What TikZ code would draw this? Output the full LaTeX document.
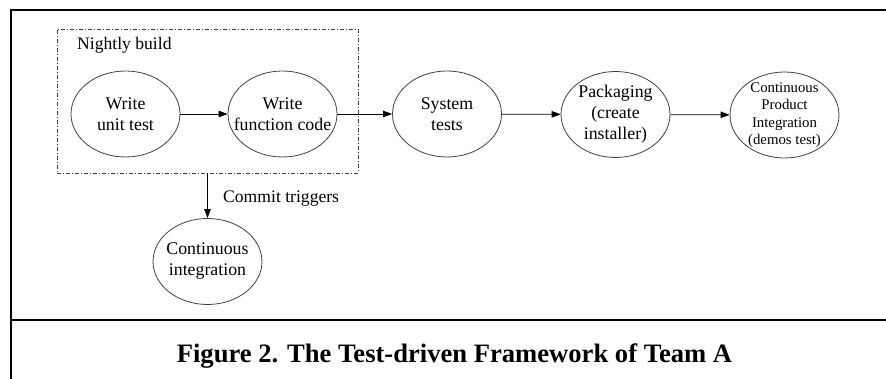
\documentclass[tikz,border=0pt]{standalone}
\usepackage{fontspec}
\setmainfont{Liberation Serif}
\usetikzlibrary{shapes.geometric,arrows.meta}
\begin{document}
\begin{tikzpicture}[x=1pt,y=-1pt,
  proc/.style={ellipse,draw=black!75,line width=0.8pt,minimum width=109pt,minimum height=86pt,inner sep=-20pt,align=center,font=\fontsize{17.8}{21}\selectfont},
  small/.style={proc,font=\fontsize{14.8}{17.5}\selectfont},
  flow/.style={-{Triangle[length=9pt,width=6.5pt]},line width=0.8pt,black},
  frame/.style={line width=2pt,black},
  lbl/.style={inner sep=0pt,anchor=west,font=\fontsize{17.6}{20}\selectfont}]
\useasboundingbox (0,0) rectangle (886,379);
\draw[frame] (11,379) -- (11,10) -- (886,10);
\draw[frame] (11,320) -- (886,320);
\node[draw=black!75,line width=0.8pt,dash pattern=on 4pt off 2pt on 1pt off 2pt,minimum width=301pt,minimum height=144pt,inner sep=0pt] (box) at (207.5,101) {};
\node[lbl] (nb) at (77,45) {Nightly build};
\node[proc] (wut) at (125.5,114) {Write\\unit test};
\node[proc] (wfc) at (282.5,114) {Write\\function code};
\node[proc] (st) at (447,114) {System\\tests};
\node[proc] (pk) at (615.5,114.5) {Packaging\\(create\\installer)};
\node[small] (cpi) at (784.5,115) {Continuous\\Product\\Integration\\(demos test)};
\node[proc] (ci) at (207.5,261.5) {Continuous\\integration};
\node[lbl] (ct) at (223,199) {Commit triggers};
\draw[flow] (wut) -- (wfc);
\draw[flow] (wfc) -- (st);
\draw[flow] (st) -- (pk);
\draw[flow] (pk) -- (cpi);
\draw[flow] (box.south) -- (ci.north);
\node[font=\fontsize{26.6}{30}\selectfont\bfseries,anchor=base,inner sep=0pt] (cap) at (454.5,362) {Figure 2. The Test-driven Framework of Team A};
\end{tikzpicture}
\end{document}
